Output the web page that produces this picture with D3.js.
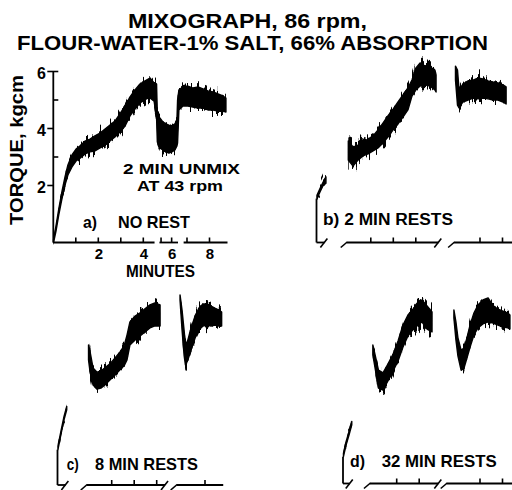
<!DOCTYPE html>
<html><head><meta charset="utf-8">
<script src="https://cdn.jsdelivr.net/npm/d3@7"></script>
<style>html,body{margin:0;padding:0;background:#fff;}svg{display:block;}</style>
</head><body><svg id="chart" width="512" height="490"></svg>
<script>
// ---------------- data ----------------
const titleLines = ["MIXOGRAPH, 86 rpm,", "FLOUR-WATER-1% SALT, 66% ABSORPTION"];
const yAxisLabel = "TORQUE, kgcm";
const xAxisLabel = "MINUTES";
const aYTicksMajor = [2, 4, 6];
const aYTicksMinor = [3, 5];
const aXTicks = [1, 2, 3, 4, 5, 6, 7, 8];
const aXTickLabels = [2, 4, 6, 8];
const bXTicks = [2, 3, 4, 7, 8];
const cXTicks = [2, 3, 4, 7];
const dXTicks = [2, 3, 7, 8];
const unmixNote = ["2 MIN UNMIX", "AT 43 rpm"];
const panelTags = ["a)", "b)", "c)", "d)"];
const panelNames = ["NO REST", "2 MIN RESTS", "8 MIN RESTS", "32 MIN RESTS"];

// a) no rest  (minutes, torque kgcm upper / lower edge of trace)
const aMinutes = [0.01,0.12,0.25,0.39,0.52,0.65,0.83,1.01,1.19,1.41,1.63,1.85,2.08,2.30,2.52,2.74,2.96,3.19,3.41,3.63,3.85,4.08,4.30,4.48,4.59,4.65,4.89,5.17,5.46,5.74,6.03,6.31,6.50,6.56,6.64,6.82,7.04,7.27,7.49,7.71,7.93,8.16,8.38,8.60,8.73];
const aHigh = [0.09,0.58,1.21,1.81,2.30,2.72,3.07,3.28,3.39,3.56,3.63,3.74,3.84,3.98,4.12,4.26,4.51,4.79,5.11,5.35,5.56,5.67,5.77,5.60,5.56,4.47,4.37,4.23,4.16,4.12,4.09,4.16,4.30,5.00,5.35,5.46,5.49,5.42,5.46,5.39,5.32,5.28,5.21,5.14,5.07];
const aLow  = [0.00,0.40,1.00,1.56,2.02,2.37,2.65,2.86,2.96,3.11,3.18,3.21,3.32,3.42,3.56,3.70,3.88,4.09,4.44,4.68,4.89,5.04,5.07,4.96,4.37,3.53,3.32,3.25,3.18,3.14,3.18,3.25,3.39,3.50,4.65,4.79,4.79,4.75,4.72,4.72,4.65,4.65,4.61,4.61,4.58];

// b) 2 min rests (null = pen lifted during rest)
const bMinutes = [0.02,0.16,0.29,0.42,null,1.00,1.21,1.43,1.65,1.88,2.10,2.32,2.54,2.76,2.99,3.21,3.43,3.65,3.83,4.00,4.19,4.41,4.63,4.85,4.90,null,5.91,6.00,6.07,6.24,6.47,6.69,6.91,7.13,7.36,7.58,7.80,8.02,8.16];
const bHigh = [1.66,1.90,2.11,2.30,null,3.56,3.35,3.42,3.53,3.63,3.74,3.95,4.19,4.44,4.68,4.93,5.18,5.42,5.70,6.12,6.30,6.19,6.16,6.05,5.88,null,6.19,6.05,5.35,5.56,5.67,5.70,5.77,5.74,5.67,5.63,5.60,5.53,5.46];
const bLow  = [1.54,1.78,1.99,2.08,null,2.89,2.68,2.89,3.04,3.11,3.21,3.32,3.49,3.70,3.95,4.16,4.40,4.65,5.14,5.35,5.49,5.53,5.49,5.35,5.28,null,5.70,4.82,4.72,4.93,5.00,5.07,5.04,5.07,5.04,5.00,5.00,4.93,4.86];

// c) 8 min rests
const cMinutes = [0.02,0.16,0.29,0.41,null,0.97,1.04,1.17,1.35,1.52,1.70,1.92,2.15,2.37,2.55,2.68,2.81,3.04,3.26,3.48,3.70,3.92,4.15,null,5.89,5.98,6.07,6.13,6.24,6.38,6.56,6.73,6.91,7.09,7.27,7.44,7.62,7.74];
const cHigh = [1.36,1.92,2.41,2.76,null,4.91,4.67,4.11,3.96,4.00,4.11,4.25,4.46,4.67,4.88,5.26,5.72,5.93,6.04,6.18,6.32,6.39,6.32,null,6.67,6.14,5.44,4.91,5.09,5.51,5.93,6.21,6.35,6.35,6.28,6.21,6.14,6.07];
const cLow  = [1.24,1.80,2.29,2.64,null,4.39,3.96,3.51,3.37,3.40,3.51,3.68,3.86,4.04,4.18,4.39,4.91,5.09,5.23,5.37,5.51,5.58,5.58,null,6.49,5.44,4.56,4.21,4.39,4.74,5.16,5.44,5.58,5.61,5.58,5.61,5.58,5.58];

// d) 32 min rests
const dMinutes = [0.02,0.13,0.27,0.39,null,0.94,1.04,1.19,1.39,1.61,1.84,2.06,2.28,2.50,2.72,2.95,3.12,3.35,3.57,null,5.84,5.93,6.02,6.16,6.29,6.42,6.56,6.73,6.91,7.13,7.36,7.58,7.80,8.02,8.24,8.33];
const dHigh = [1.06,1.45,1.83,2.18,null,4.86,4.51,3.98,3.88,4.19,4.54,5.00,5.56,5.91,6.12,6.33,6.44,6.23,6.02,null,6.09,5.67,5.11,4.68,4.75,5.11,5.56,5.98,6.26,6.44,6.51,6.23,6.12,6.05,5.98,5.91];
const dLow  = [0.94,1.33,1.71,2.06,null,4.51,4.05,3.35,3.28,3.60,3.95,4.30,4.79,5.18,5.39,5.56,5.67,5.42,5.32,null,5.81,5.04,4.47,3.98,4.05,4.40,4.79,5.21,5.46,5.60,5.67,5.63,5.56,5.49,5.46,5.42];

// ---------------- layout ----------------
const FONT = "'Liberation Sans', Arial, sans-serif";
const PX_PER_MIN = 22.5, PX_PER_KG = 28.5;
const layout = {
  a: {base: 242.5, segs: [[0,4.6,53.3,22.5],[4.6,6.6,108.7,10.5],[6.6,9,29.5,22.5]],
      runs: [[0,4.5,0,0],[4.85,6.6,0,0],[6.85,8.8,0,0]]},
  b: {base: 242.5, segs: [[0,0.5,316.5],[0.9,5.05,325.8],[5.75,8.6,322.5]],
      runs: [[0,0.35,0,1],[0.93,5.0,1,1],[5.85,8.6,1,0]]},
  c: {base: 485, segs: [[0,0.45,57.5],[0.85,4.4,66.7],[5.7,7.9,47.5]],
      runs: [[0,0.35,0,1],[0.89,4.37,1,1],[5.74,7.81,1,0]]},
  d: {base: 483.5, segs: [[0,0.45,343],[0.8,3.9,351.7],[5.5,8.5,322.5]],
      runs: [[0,0.3,0,1],[0.81,3.85,1,1],[5.52,8.5,1,0]]}
};

const svg = d3.select("#chart");
const defs = svg.append("defs");
const f = defs.append("filter").attr("id","rough").attr("filterUnits","userSpaceOnUse")
  .attr("x",0).attr("y",0).attr("width",512).attr("height",490)
  .attr("color-interpolation-filters","sRGB");
f.append("feTurbulence").attr("type","fractalNoise").attr("baseFrequency","0.42 0.025")
  .attr("numOctaves",3).attr("seed",7).attr("result","n");
f.append("feColorMatrix").attr("in","n").attr("type","matrix")
  .attr("values","0 0 0 0 0.5  1.6 0 0 0 -0.3  0 0 1 0 0  0 0 0 0 1").attr("result","m");
f.append("feDisplacementMap").attr("in","SourceGraphic").attr("in2","m").attr("scale",18)
  .attr("xChannelSelector","R").attr("yChannelSelector","G");

function makeX(segs) {
  const dom = [], rng = [];
  segs.forEach(s => {
    const rate = s[3] || PX_PER_MIN;
    [s[0], s[1]].forEach(t => {
      if (dom.length && Math.abs(dom[dom.length-1]-t) < 1e-9) return;
      dom.push(t); rng.push(s[2] + rate*t);
    });
  });
  return d3.scaleLinear().domain(dom).range(rng);
}
function makeY(base) {
  return d3.scaleLinear().domain([0, 6]).range([base, base - 6*PX_PER_KG]);
}
function txt(x, y, s, size, width, anchor, extra) {
  const t = svg.append("text").attr("x", x).attr("y", y).text(s)
    .attr("font-family", FONT).attr("font-weight", "bold").attr("font-size", size)
    .attr("fill", "#000").attr("text-anchor", anchor || "start");
  if (width) t.attr("textLength", width).attr("lengthAdjust", "spacingAndGlyphs");
  if (extra) extra(t);
  return t;
}
function band(x, y, T, H, L) {
  const data = T.map((t, i) => ({t, h: H[i], l: L[i]}));
  const area = d3.area().defined(d => d.t != null && d.h != null)
    .x(d => x(d.t)).y0(d => y(d.l)).y1(d => y(d.h));
  const p = area(data);
  svg.append("path").attr("d", p).attr("fill", "#000").attr("filter", "url(#rough)");
  svg.append("path").attr("d", p).attr("fill", "#000").attr("stroke", "#000")
    .attr("stroke-width", 1.4).attr("stroke-linejoin", "round");
}
function xAxis(x, y, runs, ticks) {
  const b = y(0);
  runs.forEach(r => {
    const x0 = x(r[0]), x1 = x(r[1]);
    svg.append("line").attr("x1", x0).attr("x2", x1).attr("y1", b).attr("y2", b)
      .attr("stroke", "#000").attr("stroke-width", 1.8);
    if (r[2]) svg.append("line").attr("x1", x0-6).attr("y1", b+5).attr("x2", x0+0.5).attr("y2", b-0.5)
      .attr("stroke", "#000").attr("stroke-width", 1.6);
    if (r[3]) svg.append("line").attr("x1", x1-4).attr("y1", b+5).attr("x2", x1+3).attr("y2", b-4)
      .attr("stroke", "#000").attr("stroke-width", 1.6);
  });
  ticks.forEach(t => svg.append("line").attr("x1", x(t)).attr("x2", x(t))
    .attr("y1", b).attr("y2", b-5).attr("stroke", "#000").attr("stroke-width", 1.6));
}

// ---------------- title ----------------
txt(247.5, 28, titleLines[0], 21, 239, "middle");
txt(252.5, 50, titleLines[1], 21, 471, "middle");

// ---------------- panel a ----------------
{
  const L = layout.a, x = makeX(L.segs), y = makeY(L.base);
  svg.append("line").attr("x1", x(0)).attr("x2", x(0)).attr("y1", y(0)).attr("y2", y(6))
    .attr("stroke", "#000").attr("stroke-width", 1.8);
  aYTicksMajor.forEach(k => svg.append("line").attr("x1", x(0)-6).attr("x2", x(0) + (k === 6 ? 5 : 0))
    .attr("y1", y(k)).attr("y2", y(k)).attr("stroke", "#000").attr("stroke-width", 1.6));
  aYTicksMinor.forEach(k => svg.append("line").attr("x1", x(0)).attr("x2", x(0)+5)
    .attr("y1", y(k)).attr("y2", y(k)).attr("stroke", "#000").attr("stroke-width", 1.6));
  aYTicksMajor.forEach(k => txt(46, y(k)+7, String(k), 16, null, "end"));
  xAxis(x, y, L.runs, aXTicks);
  aXTickLabels.forEach(t => txt(x(t)+0.5, 259, String(t), 15, null, "middle"));
  txt(160.5, 277, xAxisLabel, 17, 69, "middle");
  band(x, y, aMinutes, aHigh, aLow);
  txt(123, 173.5, unmixNote[0], 15.5, 117);
  txt(137, 191, unmixNote[1], 15.5, 86);
  txt(83, 228.3, panelTags[0], 17, 14);
  txt(118, 228.3, panelNames[0], 17, 72);
  txt(22.7, 150, yAxisLabel, 18, 150, "middle", t => t.attr("transform", "rotate(-90,22.7,150)"));
}

// ---------------- panels b, c, d ----------------
function restPanel(key, T, H, Lo, ticks) {
  const L = layout[key], x = makeX(L.segs), y = makeY(L.base);
  svg.append("line").attr("x1", x(0)).attr("x2", x(0)).attr("y1", y(0)).attr("y2", y(Lo[0]))
    .attr("stroke", "#000").attr("stroke-width", 1.8);
  xAxis(x, y, L.runs, ticks);
  band(x, y, T, H, Lo);
}
restPanel("b", bMinutes, bHigh, bLow, bXTicks);
restPanel("c", cMinutes, cHigh, cLow, cXTicks);
restPanel("d", dMinutes, dHigh, dLow, dXTicks);

txt(323, 225, panelTags[1] + " " + panelNames[1], 16, 130);
txt(66.7, 470, panelTags[2], 17, 12);
txt(95, 470, panelNames[2], 17, 103);
txt(350, 466.7, panelTags[3], 17, 15);
txt(381.7, 466.7, panelNames[3], 17, 115);
</script></body></html>
